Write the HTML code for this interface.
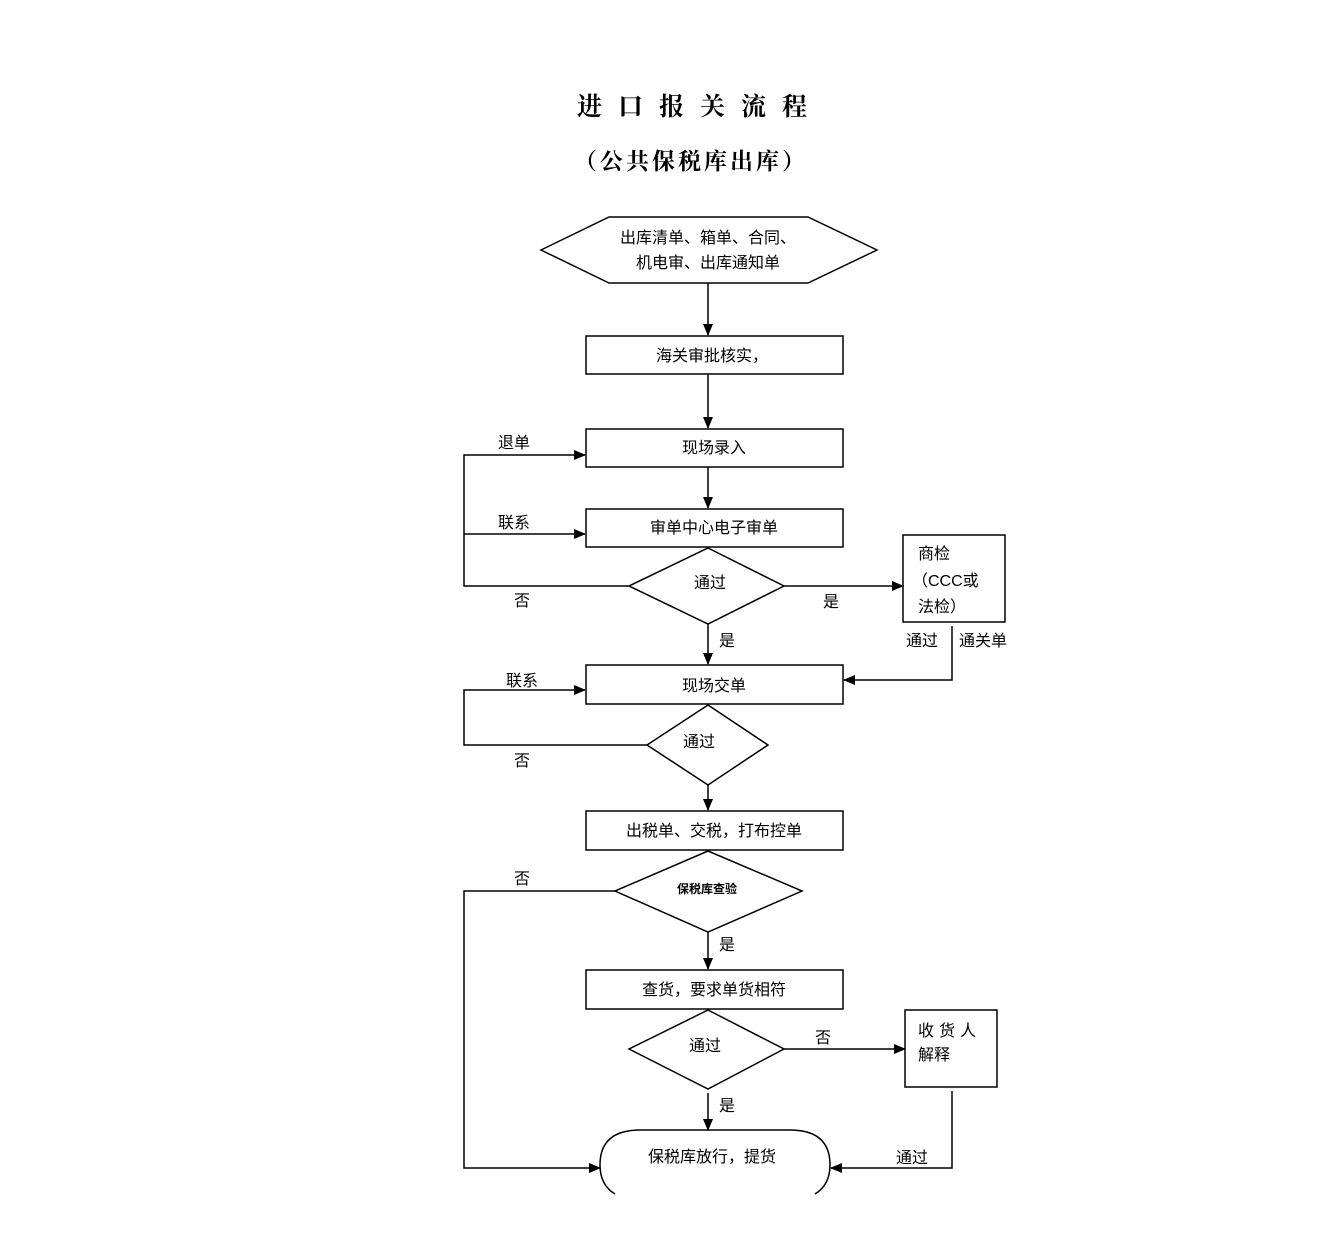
<!DOCTYPE html>
<html><head><meta charset="utf-8">
<style>
html,body{margin:0;padding:0;background:#fff;}
svg{display:block;}
text{font-family:"Liberation Sans","Noto Sans CJK SC","WenQuanYi Zen Hei",sans-serif;font-size:16px;fill:#000;}
</style></head><body>
<svg width="1322" height="1242" viewBox="0 0 1322 1242" xmlns="http://www.w3.org/2000/svg">
<defs>
<marker id="a" markerWidth="12" markerHeight="10" refX="11" refY="5" orient="auto" markerUnits="userSpaceOnUse">
<path d="M0,0 L12,5 L0,10 z" fill="#000"/>
</marker>
</defs>
<text x="577" y="115" style="font-family:'Noto Serif CJK SC','Liberation Serif',serif;font-weight:bold;font-size:25px;letter-spacing:16px">进口报关流程</text>
<text x="574" y="169" style="font-family:'Noto Serif CJK SC','Liberation Serif',serif;font-weight:bold;font-size:23px;letter-spacing:3px">（公共保税库出库）</text>

<g fill="none" stroke="#000" stroke-width="1.5">
<polygon points="541,250 609,217 808,217 877,250 808,283 609,283" fill="#fff"/>
<line x1="708" y1="283" x2="708" y2="335" marker-end="url(#a)"/>
<rect x="586" y="336" width="257" height="38"/>
<line x1="708" y1="374" x2="708" y2="428" marker-end="url(#a)"/>
<rect x="586" y="429" width="257" height="38"/>
<line x1="708" y1="467" x2="708" y2="508" marker-end="url(#a)"/>
<rect x="586" y="509" width="257" height="38"/>
<polygon points="708,548 784,586 708,624 629,586"/>
<polyline points="629,586 464,586 464,455 585,455" marker-end="url(#a)"/>
<line x1="464" y1="534" x2="585" y2="534" marker-end="url(#a)"/>
<line x1="784" y1="586" x2="903" y2="586" marker-end="url(#a)"/>
<rect x="903" y="535" width="102" height="87"/>
<line x1="708" y1="624" x2="708" y2="664" marker-end="url(#a)"/>
<rect x="586" y="665" width="257" height="39"/>
<polyline points="952,626 952,680 844,680" marker-end="url(#a)"/>
<polygon points="708,705 768,745 708,785 647,745"/>
<polyline points="647,745 464,745 464,690 585,690" marker-end="url(#a)"/>
<line x1="708" y1="785" x2="708" y2="810" marker-end="url(#a)"/>
<rect x="586" y="811" width="257" height="39"/>
<polygon points="708,851 802,891 708,932 615,891"/>
<polyline points="615,891 464,891 464,1168 600,1168" marker-end="url(#a)"/>
<line x1="708" y1="932" x2="708" y2="969" marker-end="url(#a)"/>
<rect x="586" y="970" width="257" height="39"/>
<polygon points="708,1010 784,1049 708,1089 629,1049"/>
<line x1="784" y1="1049" x2="905" y2="1049" marker-end="url(#a)"/>
<rect x="905" y="1010" width="92" height="77"/>
<line x1="708" y1="1093" x2="708" y2="1130" marker-end="url(#a)"/>
<path d="M640,1130 L790,1130 Q830,1130 830,1165 Q830,1185 815,1194 M615,1194 Q600,1185 600,1165 Q600,1130 640,1130"/>
<polyline points="952,1091 952,1168 831,1168" marker-end="url(#a)"/>
</g>

<text x="708" y="243" text-anchor="middle">出库清单、箱单、合同、</text>
<text x="708" y="268" text-anchor="middle">机电审、出库通知单</text>
<text x="712" y="361" text-anchor="middle">海关审批核实，</text>
<text x="714" y="453" text-anchor="middle">现场录入</text>
<text x="714" y="533" text-anchor="middle">审单中心电子审单</text>
<text x="710" y="588" text-anchor="middle">通过</text>
<text x="514" y="448" text-anchor="middle">退单</text>
<text x="514" y="528" text-anchor="middle">联系</text>
<text x="522" y="606" text-anchor="middle">否</text>
<text x="823" y="607">是</text>
<text x="918" y="559">商检</text>
<text x="912" y="586">（CCC或</text>
<text x="918" y="612">法检）</text>
<text x="727" y="646" text-anchor="middle">是</text>
<text x="922" y="646" text-anchor="middle">通过</text>
<text x="983" y="646" text-anchor="middle">通关单</text>
<text x="714" y="691" text-anchor="middle">现场交单</text>
<text x="522" y="686" text-anchor="middle">联系</text>
<text x="699" y="747" text-anchor="middle">通过</text>
<text x="522" y="766" text-anchor="middle">否</text>
<text x="714" y="836" text-anchor="middle">出税单、交税，打布控单</text>
<text x="522" y="884" text-anchor="middle">否</text>
<text x="707" y="893" text-anchor="middle" style="font-size:12px;font-weight:bold">保税库查验</text>
<text x="727" y="950" text-anchor="middle">是</text>
<text x="714" y="995" text-anchor="middle">查货，要求单货相符</text>
<text x="705" y="1051" text-anchor="middle">通过</text>
<text x="823" y="1043" text-anchor="middle">否</text>
<text x="918" y="1036" style="letter-spacing:5px">收货人</text>
<text x="918" y="1060">解释</text>
<text x="727" y="1111" text-anchor="middle">是</text>
<text x="712" y="1162" text-anchor="middle">保税库放行，提货</text>
<text x="912" y="1163" text-anchor="middle">通过</text>
</svg>
</body></html>
